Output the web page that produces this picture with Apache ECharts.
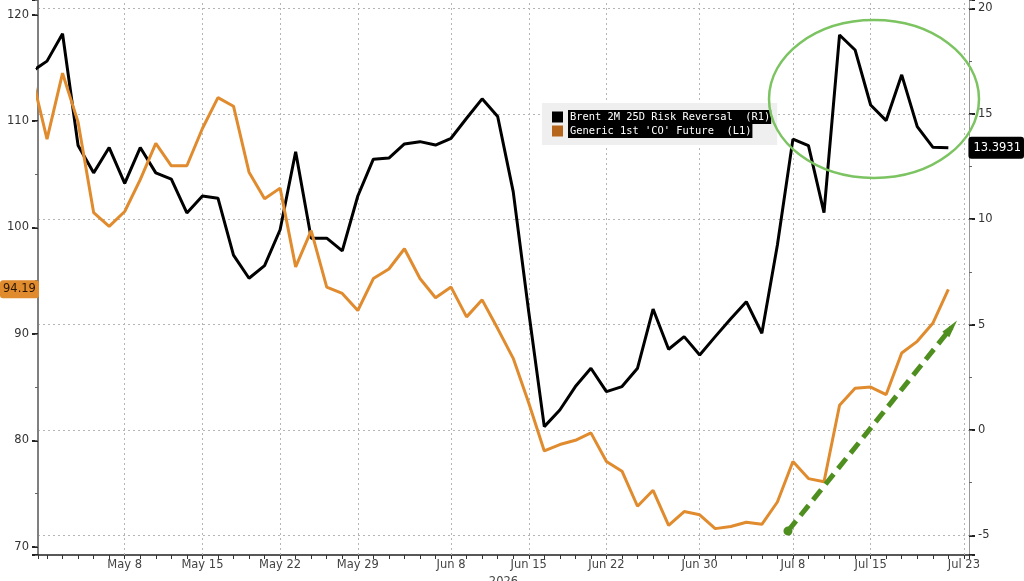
<!DOCTYPE html>
<html>
<head>
<meta charset="utf-8">
<script src="https://cdn.jsdelivr.net/npm/echarts@6/dist/echarts.min.js"></script>
<style>
  html, body { margin: 0; padding: 0; background: #fff; }
  #chart { width: 1024px; height: 581px; }
</style>
</head>
<body>
<div id="chart"></div>
<script>
  'use strict'

  // business days, Apr 30 .. Jul 23 2026
  var dates = ['Apr 30','May 1','May 4','May 5','May 6','May 7','May 8','May 11','May 12','May 13','May 14','May 15',
    'May 18','May 19','May 20','May 21','May 22','May 25','May 26','May 27','May 28','May 29',
    'Jun 1','Jun 2','Jun 3','Jun 4','Jun 5','Jun 8','Jun 9','Jun 10','Jun 11','Jun 12',
    'Jun 15','Jun 16','Jun 17','Jun 18','Jun 19','Jun 22','Jun 23','Jun 24','Jun 25','Jun 26',
    'Jun 29','Jun 30','Jul 1','Jul 2','Jul 3','Jul 6','Jul 7','Jul 8','Jul 9','Jul 10',
    'Jul 13','Jul 14','Jul 15','Jul 16','Jul 17','Jul 20','Jul 21','Jul 22','Jul 23'];

  var tickLabels = ['May 8','May 15','May 22','May 29','Jun 8','Jun 15','Jun 22','Jun 30','Jul 8','Jul 15','Jul 23'];

  // Brent 2M 25D risk reversal (right axis)
  var riskReversal = [17.0, 17.5, 18.8, 13.5, 12.2, 13.4, 11.7, 13.4, 12.2, 11.9, 10.3, 11.1,
    11.0, 8.3, 7.2, 7.8, 9.5, 13.2, 9.1, 9.1, 8.5, 11.1,
    12.85, 12.9, 13.57, 13.68, 13.52, 13.84, 14.79, 15.71, 14.87, 11.31,
    5.6, 0.16, 0.95, 2.06, 2.93, 1.82, 2.06, 2.93, 5.74, 3.83,
    4.43, 3.56, 4.43, 5.28, 6.09, 4.59, 8.78, 13.8, 13.49, 10.31,
    18.74, 18.03, 15.42, 14.68, 16.85, 14.39, 13.42, 13.3931];

  // Generic 1st 'CO' future (left axis)
  var coFuture = [114.4, 108.3, 114.5, 109.9, 101.4, 100.1, 101.5, 104.5, 107.9, 105.8, 105.8, 109.3,
    112.2, 111.4, 105.2, 102.7, 103.7, 96.3, 99.7, 94.4, 93.8, 92.2,
    95.2, 96.1, 98.0, 95.2, 93.4, 94.4, 91.6, 93.2, 90.5, 87.7,
    83.5, 79.0, 79.6, 80.0, 80.7, 78.0, 77.1, 73.8, 75.3, 72.0,
    73.3, 73.0, 71.7, 71.9, 72.3, 72.1, 74.2, 78.0, 76.4, 76.1,
    83.3, 84.9, 85.0, 84.3, 88.2, 89.3, 91.0, 94.19];

  var lastRR = '13.3931';
  var lastCO = '94.19';

  // dashed trend arrow: [day index, left-axis value]
  var arrowStart = [48.68, 71.47];
  var arrowEnd = [59.2, 90.6];

  function pairs(arr) {
    return arr.map(function (v, i) { return [i, v]; });
  }

  var gridDays = tickLabels.map(function (d) { return { xAxis: dates.indexOf(d) }; });

  var font = 'DejaVu Sans';
  var chart = echarts.init(document.getElementById('chart'));

  var option = {
    animation: false,
    grid: { left: 38, right: 55, top: 0, bottom: 26, outerBoundsMode: 'none', containLabel: false },
    legend: {
      left: 542, top: 103,
      orient: 'vertical',
      backgroundColor: '#efefef',
      padding: [7, 6, 7, 10],
      itemGap: 0,
      itemWidth: 11, itemHeight: 11,
      icon: 'rect',
      selectedMode: false,
      data: [
        { name: 'Brent 2M 25D Risk Reversal  (R1)', itemStyle: { color: '#000' } },
        { name: "Generic 1st 'CO' Future  (L1)", itemStyle: { color: '#b6651c' } }
      ],
      textStyle: {
        fontFamily: 'DejaVu Sans Mono', fontSize: 10.4,
        color: '#fff', backgroundColor: '#000',
        padding: [2, 1, 2, 2]
      }
    },
    xAxis: {
      type: 'value',
      min: 0.42, max: 60.33,
      splitNumber: 60, minInterval: 1, maxInterval: 1,
      name: '2026', nameLocation: 'middle', nameGap: 18,
      nameTextStyle: { fontFamily: font, fontSize: 11.5, color: '#444' },
      axisLine: { onZero: false, lineStyle: { color: '#222', width: 1.5 } },
      axisTick: { length: 4, lineStyle: { color: '#333' } },
      splitLine: { show: false },
      minorSplitLine: { show: false },
      axisLabel: {
        fontFamily: font, fontSize: 11.5, color: '#444', margin: 4,
        formatter: function (v) {
          var i = Math.round(v);
          if (Math.abs(v - i) > 1e-6) return '';
          return tickLabels.indexOf(dates[i]) >= 0 ? dates[i] : '';
        }
      }
    },
    yAxis: [
      {
        type: 'value', position: 'left',
        min: 69.22, max: 121.38,
        minInterval: 10, maxInterval: 10,
        axisLine: { show: true, lineStyle: { color: '#7f7f7f', width: 2 } },
        axisTick: { show: true, length: 6, lineStyle: { color: '#222', width: 2 } },
        splitLine: { show: false },
        axisLabel: {
          fontFamily: font, fontSize: 11.5, color: '#333', margin: 9,
          formatter: function (v) { return Math.abs(v % 10) < 1e-6 ? String(v) : ''; }
        },
        axisPointer: {
          show: true, status: 'show', value: coFuture[coFuture.length - 1],
          triggerTooltip: false,
          lineStyle: { opacity: 0 },
          label: {
            show: true, formatter: lastCO, margin: 2,
            fontFamily: font, fontSize: 11.5, color: '#2a1600',
            backgroundColor: '#e08b2e', padding: [3, 3, 3, 3]
          }
        }
      },
      {
        type: 'value', position: 'right',
        min: -5.93, max: 20.40,
        minInterval: 5, maxInterval: 5,
        axisLine: { show: true, lineStyle: { color: '#999', width: 1 } },
        axisTick: { show: true, length: 6, lineStyle: { color: '#222', width: 2 } },
        splitLine: {
          show: true, showMinLine: false, showMaxLine: false,
          lineStyle: { color: '#b5b5b5', type: [2, 3], width: 1 }
        },
        axisLabel: {
          fontFamily: font, fontSize: 11.5, color: '#333', margin: 9,
          formatter: function (v) { return Math.abs(v % 5) < 1e-6 ? String(v) : ''; }
        },
        axisPointer: {
          show: true, status: 'show', value: riskReversal[riskReversal.length - 1],
          triggerTooltip: false,
          lineStyle: { opacity: 0 },
          label: {
            show: true, formatter: lastRR, margin: 3,
            fontFamily: font, fontSize: 11.5, color: '#fff',
            backgroundColor: '#000', padding: [5, 3, 5, 5]
          }
        }
      },
      // minor ticks
      {
        type: 'value', position: 'left', min: 69.22, max: 121.38,
        minInterval: 5, maxInterval: 5,
        axisLine: { show: false }, splitLine: { show: false }, axisLabel: { show: false },
        axisTick: { show: true, length: 3, lineStyle: { color: '#666' } }
      },
      {
        type: 'value', position: 'right', min: -5.93, max: 20.40,
        minInterval: 2.5, maxInterval: 2.5,
        axisLine: { show: false }, splitLine: { show: false }, axisLabel: { show: false },
        axisTick: { show: true, length: 3, lineStyle: { color: '#666' } }
      }
    ],
    series: [
      {
        name: 'Brent 2M 25D Risk Reversal  (R1)',
        type: 'line',
        yAxisIndex: 1,
        data: pairs(riskReversal),
        showSymbol: false,
        itemStyle: { color: '#000' },
        lineStyle: { color: '#000', width: 3 },
        markLine: {
          silent: true, z: 1,
          symbol: ['none', 'none'],
          label: { show: false },
          lineStyle: { color: '#b5b5b5', type: [2, 3], width: 1 },
          data: gridDays
        }
      },
      {
        name: "Generic 1st 'CO' Future  (L1)",
        type: 'line',
        yAxisIndex: 0,
        data: pairs(coFuture),
        showSymbol: false,
        itemStyle: { color: '#b6651c' },
        lineStyle: { color: '#e08b2e', width: 3 },
        markLine: {
          silent: true,
          symbol: ['circle', 'triangle'],
          symbolSize: [9, 18],
          label: { show: false },
          lineStyle: { color: '#4f8f1f', type: [13, 7], width: 5 },
          data: [[{ coord: arrowStart }, { coord: arrowEnd }]]
        }
      }
    ],
    graphic: [
      {
        type: 'ellipse', z: 100,
        shape: { cx: 874, cy: 99, rx: 105, ry: 79 },
        style: { fill: 'none', stroke: '#7cc362', lineWidth: 2.5 }
      }
    ]
  };

  chart.setOption(option);
</script>
</body>
</html>
